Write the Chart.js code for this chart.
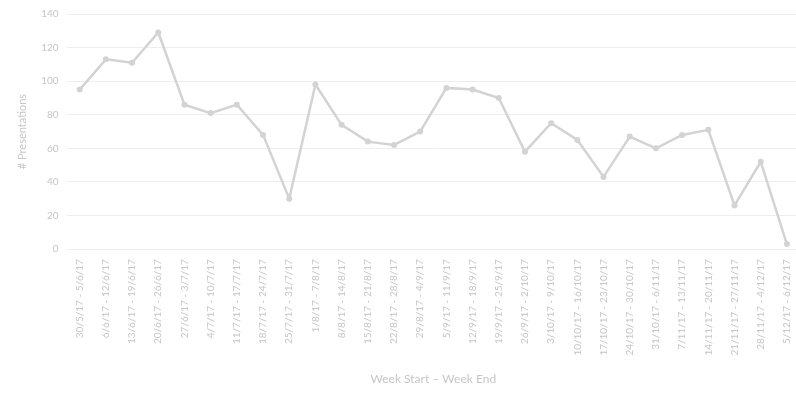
<!DOCTYPE html>
<html>
<head>
<meta charset="utf-8">
<script src="https://cdn.jsdelivr.net/npm/chart.js@4/dist/chart.umd.min.js"></script>
<style>
  html, body { margin: 0; padding: 0; background: #fff; overflow: hidden; }
  #wrap { width: 804px; height: 394px; }
</style>
</head>
<body>
<div id="wrap"><canvas id="weekChart"></canvas></div>
<script>
// Weekly presentations, one point per week
const weeks = [
    '30/5/17 - 5/6/17', '6/6/17 - 12/6/17', '13/6/17 - 19/6/17', '20/6/17 - 26/6/17',
    '27/6/17 - 3/7/17', '4/7/17 - 10/7/17', '11/7/17 - 17/7/17', '18/7/17 - 24/7/17',
    '25/7/17 - 31/7/17', '1/8/17 - 7/8/17', '8/8/17 - 14/8/17', '15/8/17 - 21/8/17',
    '22/8/17 - 28/8/17', '29/8/17 - 4/9/17', '5/9/17 - 11/9/17', '12/9/17 - 18/9/17',
    '19/9/17 - 25/9/17', '26/9/17 - 2/10/17', '3/10/17 - 9/10/17', '10/10/17 - 16/10/17',
    '17/10/17 - 23/10/17', '24/10/17 - 30/10/17', '31/10/17 - 6/11/17', '7/11/17 - 13/11/17',
    '14/11/17 - 20/11/17', '21/11/17 - 27/11/17', '28/11/17 - 4/12/17', '5/12/17 - 6/12/17'
];
const presentations = [95, 113, 111, 129, 86, 81, 86, 68, 30, 98, 74, 64, 62, 70,
    96, 95, 90, 58, 75, 65, 43, 67, 60, 68, 71, 26, 52, 3];
const yTicks = [0, 20, 40, 60, 80, 100, 120, 140];

const lineGrey = '#d3d3d3';
const textGrey = '#c6c6c6';

const ctx = document.getElementById('weekChart').getContext('2d');
new Chart(ctx, {
    type: 'line',
    data: {
        labels: weeks,
        datasets: [{
            label: '# Presentations',
            data: presentations,
            borderColor: lineGrey,
            backgroundColor: lineGrey,
            borderWidth: 2.5,
            pointRadius: 3,
            pointBorderWidth: 0,
            tension: 0
        }]
    },
    options: {
        responsive: true,
        maintainAspectRatio: false,
        animation: false,
        layout: { padding: { top: 6, right: 0, left: 12, bottom: 4 } },
        plugins: {
            legend: { display: false },
            tooltip: { enabled: false }
        },
        scales: {
            x: {
                offset: true,
                grid: { display: false },
                border: { display: false },
                ticks: {
                    color: textGrey,
                    font: { family: 'Lato', size: 10 },
                    minRotation: 90,
                    maxRotation: 90,
                    autoSkip: false,
                    padding: 2
                },
                title: {
                    display: true,
                    text: 'Week Start \u2013 Week End',
                    color: textGrey,
                    font: { family: 'Lato', size: 12 },
                    padding: { top: 14 }
                }
            },
            y: {
                min: 0,
                max: 140,
                afterBuildTicks: scale => {
                    scale.ticks = yTicks.map(v => ({ value: v }));
                },
                grid: { color: '#eeeeee', drawTicks: false },
                border: { display: false },
                ticks: {
                    color: textGrey,
                    font: { family: 'Lato', size: 10 },
                    padding: 8
                },
                title: {
                    display: true,
                    text: '# Presentations',
                    color: textGrey,
                    font: { family: 'Lato', size: 11 },
                    padding: 4
                }
            }
        }
    }
});
</script>
</body>
</html>
